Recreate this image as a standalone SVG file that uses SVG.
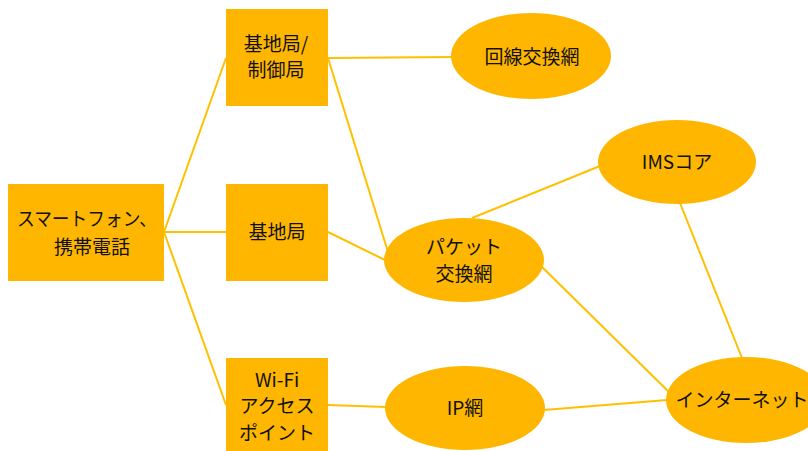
<svg xmlns="http://www.w3.org/2000/svg" width="808" height="451" viewBox="0 0 808 451">
<style>
.box{fill:#FFB600;}
.ell{fill:#FFB600;}
.t{font-family:"Noto Sans CJK JP","Noto Sans",sans-serif;font-size:19px;fill:#111111;text-anchor:middle;}
.c{stroke:#FFC000;stroke-width:2;fill:none;}
</style>
<rect width="808" height="451" fill="#ffffff"/>
<g id="connectors">
<line class="c" x1="164" y1="232" x2="226" y2="58"/>
<line class="c" x1="164" y1="232" x2="226" y2="232"/>
<line class="c" x1="164" y1="232" x2="226" y2="405"/>
<line class="c" x1="328" y1="58" x2="452" y2="57"/>
<line class="c" x1="328" y1="58" x2="388" y2="252"/>
<line class="c" x1="328" y1="232" x2="387" y2="261"/>
<line class="c" x1="472" y1="218" x2="600" y2="166"/>
<line class="c" x1="540" y1="265" x2="672" y2="395"/>
<line class="c" x1="328" y1="405" x2="386" y2="407"/>
<line class="c" x1="544" y1="410" x2="667" y2="400"/>
<line class="c" x1="680" y1="203" x2="742" y2="358"/>
</g>
<g id="smartphone">
<rect class="box" x="8" y="184" width="156" height="97"/>
<text class="t" x="87" y="226" textLength="140" lengthAdjust="spacingAndGlyphs">スマートフォン、</text>
<text class="t" x="92" y="254">携帯電話</text>
</g>
<g id="bs-ctrl">
<rect class="box" x="226" y="9" width="102" height="97"/>
<text class="t" x="276" y="51">基地局/</text>
<text class="t" x="276" y="77">制御局</text>
</g>
<g id="bs">
<rect class="box" x="226" y="184" width="102" height="97"/>
<text class="t" x="277" y="239">基地局</text>
</g>
<g id="wifi">
<rect class="box" x="226" y="358" width="102" height="93"/>
<text class="t" x="277" y="387">Wi-Fi</text>
<text class="t" x="277" y="413">アクセス</text>
<text class="t" x="277" y="440">ポイント</text>
</g>
<g id="circuit">
<ellipse class="ell" cx="531" cy="56" rx="80" ry="43"/>
<text class="t" x="532" y="64">回線交換網</text>
</g>
<g id="packet">
<ellipse class="ell" cx="464" cy="260" rx="80" ry="42"/>
<text class="t" x="464" y="254">パケット</text>
<text class="t" x="464" y="281">交換網</text>
</g>
<g id="ims">
<ellipse class="ell" cx="677" cy="162" rx="79" ry="42"/>
<text class="t" x="677" y="169">IMSコア</text>
</g>
<g id="ipnet">
<ellipse class="ell" cx="465" cy="408" rx="80" ry="42"/>
<text class="t" x="465" y="415">IP網</text>
</g>
<g id="internet">
<ellipse class="ell" cx="746" cy="400" rx="80" ry="43"/>
<text class="t" x="742" y="407">インターネット</text>
</g>
</svg>
